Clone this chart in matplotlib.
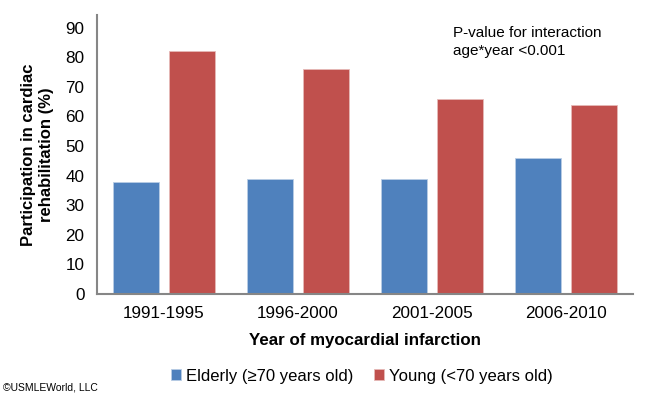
import numpy as np
import matplotlib
matplotlib.use('Agg')
import matplotlib.pyplot as plt

plt.rcParams['font.family'] = ['Liberation Sans', 'DejaVu Sans']

periods = ['1991-1995', '1996-2000', '2001-2005', '2006-2010']
elderly = [38, 39, 39, 46]
young = [82, 76, 66, 64]
yticks = [0, 10, 20, 30, 40, 50, 60, 70, 80, 90]

BLUE = '#4F81BD'
RED = '#C0504D'
GREY = '#868686'

fig = plt.figure(figsize=(6.45, 3.98), dpi=100)
ax = fig.add_axes([97 / 645, 1 - 294 / 398, 536 / 645, 279 / 398])

x = np.arange(len(periods))
w = 0.336
ax.bar(x - 0.209, elderly, w, color=BLUE, edgecolor='#B9CDE5', linewidth=0.6,
       label='Elderly (≥70 years old)')
ax.bar(x + 0.209, young, w, color=RED, edgecolor='#E6B9B8', linewidth=0.6,
       label='Young (<70 years old)')

ax.set_xlim(-0.5, len(periods) - 0.5)
ax.set_ylim(0, 94.3)
ax.set_yticks(yticks)
ax.set_xticks(x)
ax.set_xticklabels(periods)
ax.tick_params(axis='both', length=0, labelsize=12.3, colors='black')
ax.tick_params(axis='y', pad=9)
ax.tick_params(axis='x', pad=9)
for s in ['top', 'right']:
    ax.spines[s].set_visible(False)
for s in ['left', 'bottom']:
    ax.spines[s].set_color(GREY)
    ax.spines[s].set_linewidth(1.5)

ax.set_ylabel('Participation in cardiac\nrehabilitation (%)', fontsize=12,
              fontweight='bold', labelpad=8, linespacing=1.25)
ax.set_xlabel('Year of myocardial infarction', fontsize=12.2, fontweight='bold',
              labelpad=8)

ax.text(0.664, 0.96, 'P-value for interaction\nage*year <0.001',
        transform=ax.transAxes, fontsize=11, va='top', ha='left',
        linespacing=1.35)

fig.legend(loc='center', bbox_to_anchor=(362 / 645, 1 - 376 / 398), ncol=2,
           frameon=False, fontsize=12, handlelength=0.6, handleheight=0.6,
           handletextpad=0.3, columnspacing=1.2)

fig.text(3 / 645, 1 - 387 / 398, '©USMLEWorld, LLC', fontsize=7.5,
         va='center', ha='left', fontstretch='condensed')

fig.savefig('out.png', dpi=100)
